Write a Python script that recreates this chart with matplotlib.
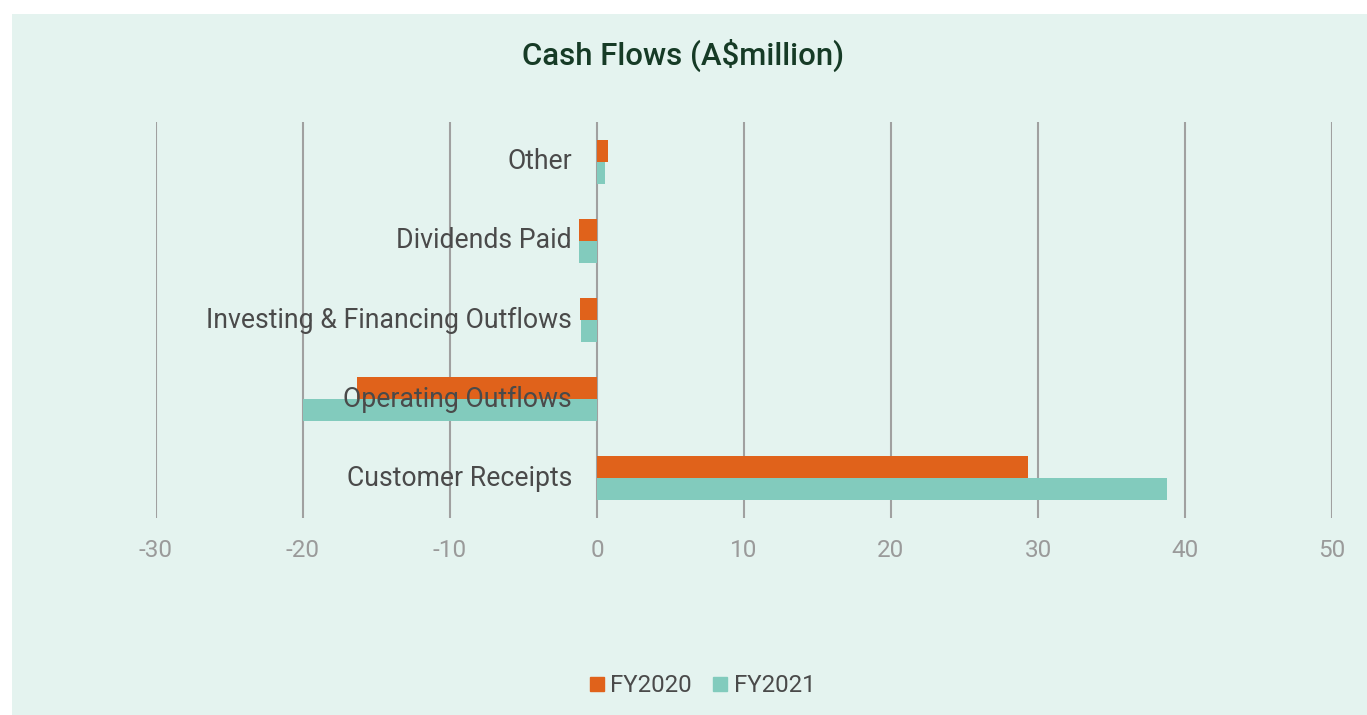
import numpy as np
import matplotlib.pyplot as plt
from matplotlib.patches import Rectangle
from matplotlib.lines import Line2D

# -----------------------------
# Data
# -----------------------------
categories = ["Customer Receipts", "Operating Outflows",
              "Investing & Financing Outflows", "Dividends Paid", "Other"]
fy2020 = [29.3, -16.3, -1.15, -1.2, 0.75]
fy2021 = [38.8, -20.0, -1.1, -1.2, 0.55]
series_names = ["FY2020", "FY2021"]
x_ticks = [-30, -20, -10, 0, 10, 20, 30, 40, 50]

bg = "#e4f3ef"
orange = "#e0621b"
teal = "#82cbbd"
grid_col = "#a0a0a0"

plt.rcParams["font.family"] = ["Roboto", "DejaVu Sans"]

fig = plt.figure(figsize=(13.67, 7.15), dpi=100)
fig.patch.set_facecolor("white")
fig.patches.append(Rectangle((12 / 1367, 0), 1 - 12 / 1367, 1 - 14 / 715,
                             transform=fig.transFigure, facecolor=bg,
                             edgecolor="none", zorder=-10))

ax = fig.add_axes([156 / 1367, 1 - 518 / 715, 1176 / 1367, 396 / 715])
ax.set_facecolor("none")

y = np.arange(len(categories))
h = 0.277
ax.barh(y + h / 2, fy2020, height=h, color=orange, zorder=3)
ax.barh(y - h / 2, fy2021, height=h, color=teal, zorder=3)

ax.set_xlim(-30, 50)
ax.set_ylim(-0.5, len(categories) - 0.5)
ax.set_xticks(x_ticks)
ax.set_xticklabels([str(t) for t in x_ticks], fontsize=17.5, color="#9a9a9a")
ax.tick_params(axis="x", length=0, pad=15)
ax.set_yticks([])
for s in ax.spines.values():
    s.set_visible(False)
for t in x_ticks:
    ax.axvline(t, color=grid_col, lw=1.5, zorder=1)

for yi, lab in zip(y, categories):
    ax.annotate(lab, xy=(0, yi), xytext=(-18, 0), textcoords="offset points",
                ha="right", va="center", fontsize=19.2, color="#4a4a4a", zorder=4)

fig.text(0.5, 1 - 55 / 715, "Cash Flows (A$million)", ha="center", va="center",
         fontsize=22.4, fontweight="medium", color="#163b26")

handles = [Line2D([], [], marker="s", linestyle="none", markersize=9.5,
                  color=c) for c in (orange, teal)]
fig.legend(handles, series_names, loc="center", bbox_to_anchor=(0.512, 1 - 686 / 715),
           ncol=2, frameon=False, fontsize=17.3, labelcolor="#4a4a4a",
           handletextpad=0.05, columnspacing=0.7, handlelength=1.0)

fig.savefig("out.png", dpi=100)
